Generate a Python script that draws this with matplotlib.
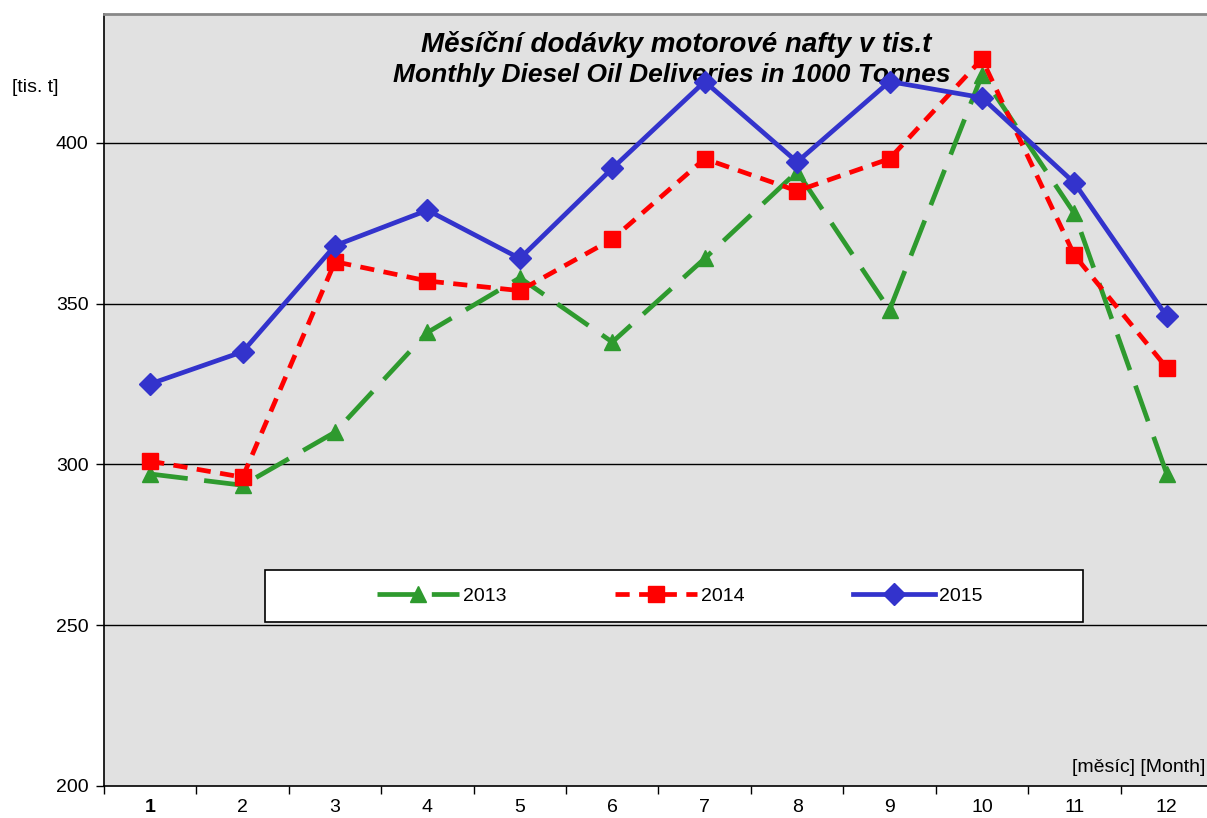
import matplotlib.pyplot as plt
from matplotlib.patches import Rectangle
from matplotlib.ticker import FixedLocator

plt.rcParams['font.family'] = ['Liberation Sans', 'DejaVu Sans']

# monthly deliveries in thousand tonnes
months = list(range(1, 13))
d2013 = [297, 293.5, 310, 341, 358, 338, 364, 391, 348, 421, 378, 297]
d2014 = [301, 296, 363, 357, 354, 370, 395, 385, 395, 426, 365, 330]
d2015 = [325, 335, 368, 379, 364, 392, 419, 394, 419, 414, 387.5, 346]
years = ['2013', '2014', '2015']
yticks = [200, 250, 300, 350, 400]

fig = plt.figure(figsize=(12.07, 8.18), dpi=100)
ax = fig.add_axes([104 / 1207, 32 / 818, 1109 / 1207, 772 / 818])
ax.set_facecolor('#e1e1e1')

ax.plot(months, d2013, color='#2e9a2e', lw=3.4, dashes=(8, 3.5),
        marker='^', ms=12, label=years[0], zorder=3)
ax.plot(months, d2014, color='#ff0000', lw=3.4, dashes=(3, 2),
        marker='s', ms=12, label=years[1], zorder=4)
ax.plot(months, d2015, color='#3333cc', lw=3.4,
        marker='D', ms=11, label=years[2], zorder=5)

ax.set_xlim(0.5, 12.5)
ax.set_ylim(200, 440)
ax.set_yticks(yticks)
ax.set_xticks(months)
ax.xaxis.set_minor_locator(FixedLocator([m + 0.5 for m in range(0, 13)]))
ax.tick_params(axis='x', which='major', length=0, labelsize=14, pad=9)
ax.tick_params(axis='x', which='minor', length=6, width=1)
ax.tick_params(axis='y', length=6, width=1, labelsize=14, pad=5)
ax.xaxis.get_majorticklabels()[0].set_fontweight('bold')
for y in yticks[1:]:
    ax.axhline(y, color='black', lw=1, zorder=1)

ax.spines['right'].set_visible(False)
ax.spines['top'].set_color('#888888')
ax.spines['top'].set_linewidth(2)
ax.spines['left'].set_linewidth(1.2)
ax.spines['bottom'].set_linewidth(1.2)

ax.text(0.516, 0.96, 'Měsíční dodávky motorové nafty v tis.t',
        transform=ax.transAxes, ha='center', va='center', fontsize=20,
        fontweight='bold', style='italic')
ax.text(0.512, 0.921, 'Monthly Diesel Oil Deliveries in 1000 Tonnes',
        transform=ax.transAxes, ha='center', va='center', fontsize=19,
        fontweight='bold', style='italic')
fig.text(12 / 1207, 1 - 88 / 818, '[tis. t]', fontsize=14, va='center')
fig.text(1205 / 1207, 1 - 767 / 818, '[měsíc] [Month]', fontsize=14,
         ha='right', va='center')

# legend box
ax.add_patch(Rectangle((0.145, 0.212), 0.738, 0.068, transform=ax.transAxes,
                       facecolor='white', edgecolor='black', lw=1.2, zorder=6))
leg = ax.legend(loc='center', bbox_to_anchor=(0.519, 0.246), ncol=3,
                frameon=False, fontsize=14, handlelength=4.2,
                handletextpad=0.2, columnspacing=5.6)
leg.set_zorder(7)

fig.savefig('out.png', dpi=100)
